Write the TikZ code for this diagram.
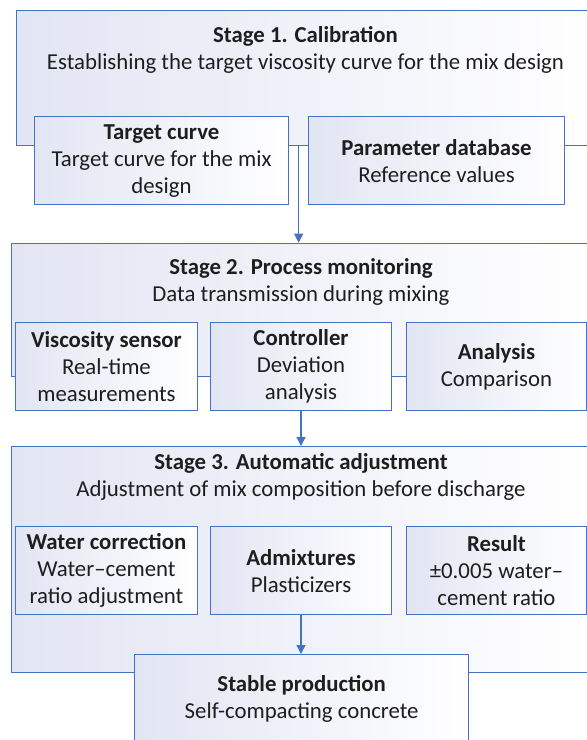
\documentclass[tikz,border=0pt]{standalone}
\usepackage{fontspec}
\setmainfont{Carlito}
\usetikzlibrary{arrows.meta,calc}
\definecolor{bord}{HTML}{4472C4}
\definecolor{lav}{HTML}{E2E5F3}
\definecolor{ink}{HTML}{1E1E1E}
\begin{document}
\begin{tikzpicture}[x=1pt,y=-1pt,
  box/.style={draw=bord,line width=1.3pt,left color=lav,right color=white,anchor=north west,
    inner sep=0pt,align=center,text=ink,font=\fontsize{22.8}{27}\selectfont},
  txt/.style={font=\fontsize{22.8}{27}\selectfont,align=center,text=ink,inner sep=0pt},
  arr/.style={draw=bord,line width=1.3pt,-{Triangle[length=9pt,width=9pt]}}
]
\clip (0,0) rectangle (587,740);
\fill[white] (0,0) rectangle (587,740);
% Stage 1
\node[box,minimum width=580,minimum height=135] (s1) at (15.7,10) {};
\node[txt] (s1t) at (305.5,50) {\textbf{Stage 1. Calibration}\\Establishing the target viscosity curve for the mix design};
\node[box,minimum width=254.3,minimum height=88] (tc) at (33.7,116) {\textbf{Target curve}\\Target curve for the mix\\design};
\node[box,minimum width=255.7,minimum height=88] (pd) at (308,116) {\textbf{Parameter database}\\Reference values};
% Stage 2
\node[box,minimum width=581,minimum height=133] (s2) at (10.5,242.7) {};
\node[txt] (s2t) at (301,281.5) {\textbf{Stage 2. Process monitoring}\\Data transmission during mixing};
\node[box,minimum width=181.6,minimum height=88.3] (vs) at (15,321.7) {\textbf{Viscosity sensor}\\Real-time\\measurements};
\node[box,minimum width=181.3,minimum height=88.3] (ct) at (209.7,321.7) {\textbf{Controller}\\Deviation\\analysis};
\node[box,minimum width=180.4,minimum height=88.3] (an) at (405.6,321.7) {\textbf{Analysis}\\Comparison};
% Stage 3
\node[box,minimum width=581,minimum height=225.7] (s3) at (10.5,446) {};
\node[txt] (s3t) at (301,477) {\textbf{Stage 3. Automatic adjustment}\\Adjustment of mix composition before discharge};
\node[box,minimum width=181.6,minimum height=88] (wc) at (15,526) {\textbf{Water correction}\\Water–cement\\ratio adjustment};
\node[box,minimum width=181.3,minimum height=88] (ad) at (209.7,526) {\textbf{Admixtures}\\Plasticizers};
\node[box,minimum width=180.4,minimum height=88] (rs) at (405.6,526) {\textbf{Result}\\±0.005 water–\\cement ratio};
\node[box,minimum width=334,minimum height=89] (sp) at (134,654) {\textbf{Stable production}\\Self-compacting concrete};
% arrows
\coordinate (m1) at ($(tc.east)!0.5!(pd.west)$);
\draw[arr] (m1 |- s1.south) -- (m1 |- s2.north);
\draw[arr] (ct.south) -- (ct.south |- s3.north);
\draw[arr] (ad.south) -- (ad.south |- sp.north);
\end{tikzpicture}
\end{document}
